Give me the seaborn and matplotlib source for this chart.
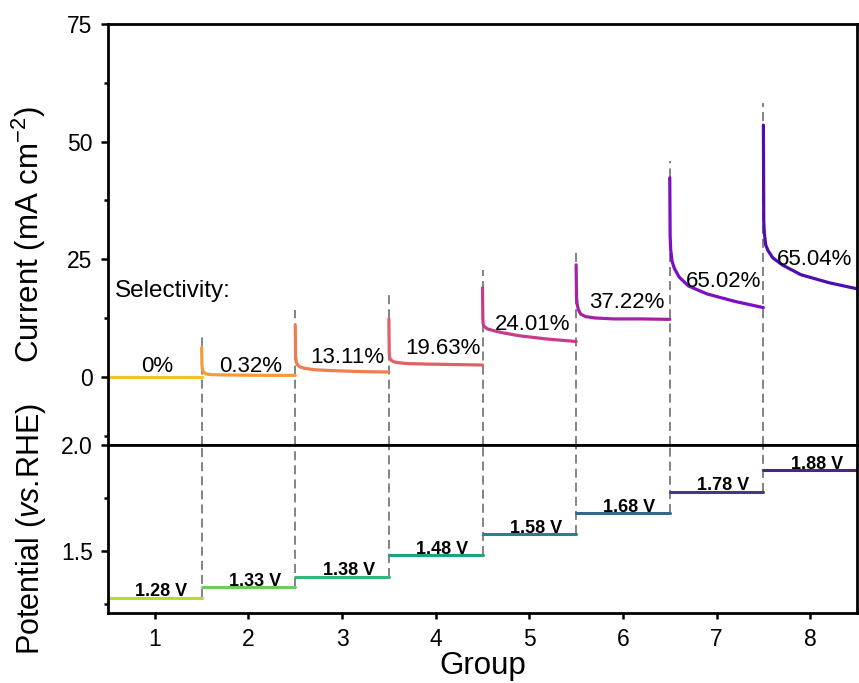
import numpy as np
import pandas as pd
import matplotlib
matplotlib.use("Agg")
import matplotlib.pyplot as plt
from matplotlib.ticker import MultipleLocator, FormatStrFormatter
import seaborn as sns

# ---- data -------------------------------------------------------------
groups = [1, 2, 3, 4, 5, 6, 7, 8]
potentials = [1.28, 1.33, 1.38, 1.48, 1.58, 1.68, 1.78, 1.88]
selectivity = ["0%", "0.32%", "13.11%", "19.63%", "24.01%", "37.22%", "65.02%", "65.04%"]

# time within each step, as a fraction of the step length
step_time = [0.0, 0.004, 0.01, 0.025, 0.05, 0.1, 0.2, 0.4, 0.7, 1.0]
current_g1 = [0.0, 0.0, 0.0, 0.0, 0.0, 0.0, 0.0, 0.0, 0.0, 0.0]
current_g2 = [6.2, 2.5, 1.4, 0.9, 0.6, 0.45, 0.4, 0.35, 0.3, 0.3]
current_g3 = [11.0, 4.5, 3.2, 2.5, 2.1, 1.8, 1.5, 1.3, 1.1, 1.0]
current_g4 = [12.3, 5.0, 4.0, 3.5, 3.2, 3.0, 2.8, 2.7, 2.6, 2.5]
current_g5 = [18.9, 12.0, 11.0, 10.6, 10.2, 9.9, 9.4, 8.7, 8.0, 7.5]
current_g6 = [23.8, 17.0, 15.5, 14.2, 13.3, 12.8, 12.5, 12.3, 12.3, 12.2]
current_g7 = [42.3, 30.0, 27.0, 24.5, 23.0, 21.2, 19.3, 17.6, 16.0, 14.7]
current_g8 = [53.5, 33.0, 30.6, 28.0, 26.8, 25.3, 23.8, 21.7, 20.0, 18.7]
currents = [current_g1, current_g2, current_g3, current_g4,
            current_g5, current_g6, current_g7, current_g8]

# ---- styling ----------------------------------------------------------
curve_colors = ["#f6c02c", "#f89a38", "#f07d4b", "#e0606a",
                "#c53c8c", "#a522a6", "#7b0fc4", "#4e0db0"]
step_colors = ["#b5de2b", "#6ccd5a", "#35b779", "#1fa187",
               "#26828e", "#31688e", "#443983", "#482878"]
divider_tops = [9.3, 14.2, 18.0, 22.7, 26.5, 45.9, 58.2]
pct_label_y = [1.06, 1.06, 2.97, 4.89, 10.0, 14.66, 19.1, 23.8]
pct_label_dx = [0.03, 0.02, 0.06, 0.08, 0.04, 0.04, 0.07, 0.05]

sns.set_style("ticks")
plt.rcParams["font.family"] = ["Liberation Sans", "DejaVu Sans"]
plt.rcParams["mathtext.fontset"] = "custom"
plt.rcParams["mathtext.rm"] = "Liberation Sans"
plt.rcParams["mathtext.it"] = "Liberation Sans:italic"
plt.rcParams["text.color"] = "black"
plt.rcParams["axes.labelcolor"] = "black"
plt.rcParams["xtick.color"] = "black"
plt.rcParams["ytick.color"] = "black"

fig = plt.figure(figsize=(8.59, 6.83), dpi=100)
ax_top = fig.add_axes([0.1257, 0.3485, 0.8720, 0.6164])
ax_bot = fig.add_axes([0.1257, 0.1025, 0.8720, 0.2460], sharex=ax_top)

# ---- current transients ----------------------------------------------
rows = []
for g, vals in zip(groups, currents):
    for t, v in zip(step_time, vals):
        rows.append({"time": g - 0.5 + t, "current": v, "group": g})
df_cur = pd.DataFrame(rows)
sns.lineplot(data=df_cur, x="time", y="current", hue="group",
             palette=curve_colors, estimator=None, sort=False,
             linewidth=2.3, legend=False, ax=ax_top)

# ---- applied potential steps -----------------------------------------
rows = []
for g, v in zip(groups, potentials):
    rows.append({"time": g - 0.5, "potential": v, "group": g})
    rows.append({"time": g + 0.5, "potential": v, "group": g})
df_pot = pd.DataFrame(rows)
sns.lineplot(data=df_pot, x="time", y="potential", hue="group",
             palette=step_colors, estimator=None, sort=False,
             linewidth=2.2, legend=False, ax=ax_bot)

# ---- dashed separators between steps ---------------------------------
ymin_top, ymax_top = -14.5, 75
ymin_bot, ymax_bot = 1.208, 2.0
dash = (0, (5, 2.8))
for i, top in enumerate(divider_tops):
    xb = groups[i] + 0.5
    ax_top.plot([xb, xb], [ymin_top, top], color="#7a7a7a", lw=1.3,
                linestyle=dash, zorder=1)
    ax_bot.plot([xb, xb], [potentials[i], ymax_bot], color="#7a7a7a", lw=1.3,
                linestyle=dash, zorder=1)

# ---- annotations -------------------------------------------------------
for g, s, y, dx in zip(groups, selectivity, pct_label_y, pct_label_dx):
    ax_top.text(g + dx, y, s, ha="center", va="baseline", fontsize=16)
ax_top.text(0.574, 17.0, "Selectivity:", ha="left", va="baseline", fontsize=17.5)

for g, v in zip(groups, potentials):
    ax_bot.text(g + 0.07, v + 0.006, f"{v:.2f} V", ha="center", va="baseline",
                fontsize=13, fontweight="bold")

# ---- axes --------------------------------------------------------------
ax_top.set_xlim(0.5, 8.5)
ax_top.set_ylim(ymin_top, ymax_top)
ax_top.yaxis.set_major_locator(MultipleLocator(25))
ax_top.yaxis.set_minor_locator(MultipleLocator(12.5))
ax_top.tick_params(axis="x", bottom=False, labelbottom=False)
ax_top.set_xlabel("")
ax_top.set_ylabel("Current (mA cm$^{\\mathregular{-2}}$)", fontsize=22.5)
ax_top.yaxis.set_label_coords(-0.08, 0.5)

ax_bot.set_ylim(ymin_bot, ymax_bot)
ax_bot.yaxis.set_major_locator(MultipleLocator(0.5))
ax_bot.yaxis.set_minor_locator(MultipleLocator(0.25))
ax_bot.yaxis.set_major_formatter(FormatStrFormatter("%.1f"))
ax_bot.set_xticks(groups)
ax_bot.set_xticklabels([str(g) for g in groups])
ax_bot.set_xlabel("Group", fontsize=22.5, labelpad=0)
ax_bot.set_ylabel("Potential ($\\mathit{vs.}\\!$RHE)", fontsize=22)
ax_bot.yaxis.set_label_coords(-0.08, 0.5)

for ax in (ax_top, ax_bot):
    for sp in ax.spines.values():
        sp.set_visible(True)
        sp.set_linewidth(2.0)
        sp.set_color("black")
    ax.tick_params(axis="y", which="major", length=5, width=1.8,
                   labelsize=16.5, pad=6, direction="out")
    ax.tick_params(axis="y", which="minor", length=3, width=1.8,
                   direction="out")
ax_bot.tick_params(axis="x", which="major", length=4, width=1.8,
                   labelsize=16.5, pad=7, direction="out")
ax_bot.tick_params(axis="x", which="minor", bottom=False)

fig.savefig("out.png", dpi=100)
